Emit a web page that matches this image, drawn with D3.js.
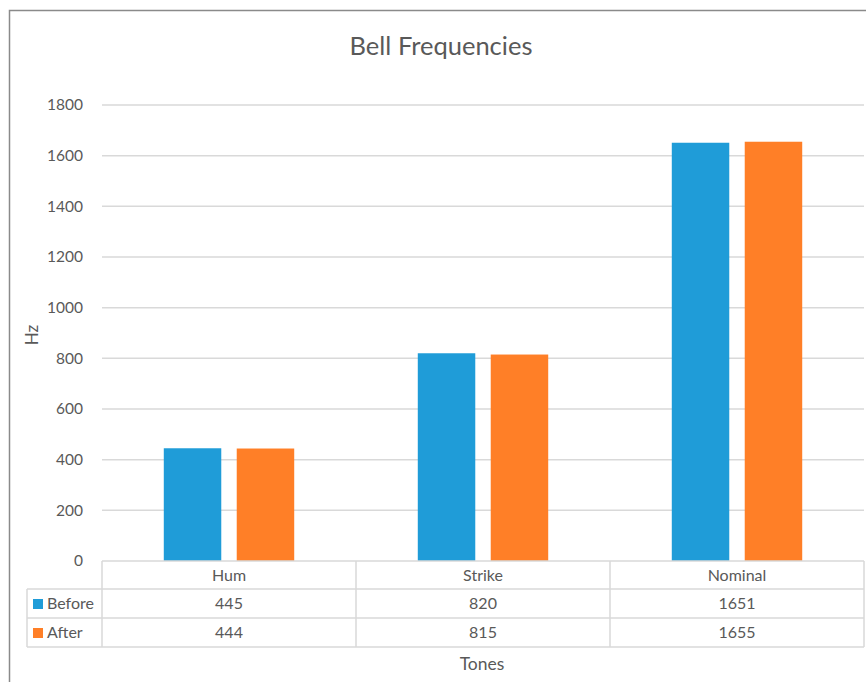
<!DOCTYPE html>
<html>
<head>
<meta charset="utf-8">
<script src="https://cdn.jsdelivr.net/npm/d3@7"></script>
<style>
html,body{margin:0;padding:0;background:#fff;}
svg{display:block;}
text{font-family:Lato,"Open Sans",sans-serif;fill:#595959;}
</style>
</head>
<body>
<svg id="chart" width="866" height="682"></svg>
<script>
const categories = ["Hum", "Strike", "Nominal"];
const seriesNames = ["Before", "After"];
const beforeValues = [445, 820, 1651];
const afterValues = [444, 815, 1655];
const yTicks = [0, 200, 400, 600, 800, 1000, 1200, 1400, 1600, 1800];
const colors = ["#1f9cd8", "#ff7f27"];
const seriesValues = [beforeValues, afterValues];

(function () {
const svg = d3.select("#chart");
const pLeft = 102, pRight = 864, pTop = 105, pBottom = 561;
const rowH = [28, 29, 29];
const legendLeft = 27;
const fs = 16;

svg.append("rect").attr("x", 0).attr("y", 0).attr("width", 866).attr("height", 682).attr("fill", "#fff");
// outer border
svg.append("rect").attr("x", 9.5).attr("y", 10.5).attr("width", 900).attr("height", 700)
  .attr("fill", "none").attr("stroke", "#8a8a8a").attr("stroke-width", 1.5);

const x = d3.scaleBand().domain(categories).range([pLeft, pRight]).paddingInner(0).paddingOuter(0);
const xs = d3.scaleBand().domain(seriesNames).range([0, x.bandwidth()]).paddingInner(0.212).paddingOuter(0.847);
const y = d3.scaleLinear().domain([0, 1800]).range([pBottom, pTop]);

// gridlines
svg.append("g").selectAll("line").data(yTicks.filter(d => d > 0)).join("line")
  .attr("x1", pLeft).attr("x2", pRight)
  .attr("y1", d => y(d)).attr("y2", d => y(d))
  .attr("stroke", "#d9d9d9").attr("stroke-width", 1.5);

// y axis tick labels
const yAxis = d3.axisLeft(y).tickValues(yTicks).tickFormat(d3.format("d")).tickSize(0).tickPadding(0);
const ya = svg.append("g").attr("transform", "translate(83,0)").call(yAxis);
ya.select(".domain").remove();
ya.selectAll("text").attr("font-size", 15.5).attr("fill", "#595959").attr("font-family", "Lato,'Open Sans',sans-serif");

// bars
seriesNames.forEach((s, si) => {
  svg.append("g").selectAll("rect").data(categories).join("rect")
    .attr("x", c => x(c) + xs(s))
    .attr("width", xs.bandwidth())
    .attr("y", (c, i) => y(seriesValues[si][i]))
    .attr("height", (c, i) => y(0) - y(seriesValues[si][i]))
    .attr("fill", colors[si]);
});

// data table
const tbl = svg.append("g");
const lc = "#d9d9d9", lw = 1.5;
const r0 = pBottom, r1 = r0 + rowH[0], r2 = r1 + rowH[1], r3 = r2 + rowH[2];
tbl.append("line").attr("x1", pLeft).attr("x2", pRight).attr("y1", r0).attr("y2", r0).attr("stroke", lc).attr("stroke-width", lw);
[r1, r2, r3].forEach(r => tbl.append("line").attr("x1", legendLeft).attr("x2", pRight).attr("y1", r).attr("y2", r).attr("stroke", lc).attr("stroke-width", lw));
tbl.append("line").attr("x1", legendLeft).attr("x2", legendLeft).attr("y1", r1).attr("y2", r3).attr("stroke", lc).attr("stroke-width", lw);
[pLeft, ...categories.map(c => x(c) + x.bandwidth())].forEach(xx =>
  tbl.append("line").attr("x1", xx).attr("x2", xx).attr("y1", r0).attr("y2", r3).attr("stroke", lc).attr("stroke-width", lw));

tbl.selectAll("text.cat").data(categories).join("text").attr("class", "cat")
  .attr("x", c => x(c) + x.bandwidth() / 2).attr("y", (r0 + r1) / 2 + 5.5)
  .attr("text-anchor", "middle").attr("font-size", fs).text(c => c);

const rowsY = [(r1 + r2) / 2, (r2 + r3) / 2];
seriesNames.forEach((s, si) => {
  tbl.append("rect").attr("x", 33).attr("y", rowsY[si] - 4.5).attr("width", 10).attr("height", 10).attr("fill", colors[si]);
  tbl.append("text").attr("x", 47).attr("y", rowsY[si] + 5.5).attr("font-size", fs).text(s);
  tbl.selectAll("text.v" + si).data(categories).join("text").attr("class", "v" + si)
    .attr("x", c => x(c) + x.bandwidth() / 2).attr("y", rowsY[si] + 5.5)
    .attr("text-anchor", "middle").attr("font-size", fs)
    .text((c, i) => seriesValues[si][i]);
});

// titles
svg.append("text").attr("x", 441).attr("y", 55).attr("text-anchor", "middle").attr("font-size", 25.5).text("Bell Frequencies");
svg.append("text").attr("x", 482).attr("y", 670).attr("text-anchor", "middle").attr("font-size", 17.5).text("Tones");
svg.append("text").attr("transform", "translate(38,335) rotate(-90)").attr("text-anchor", "middle").attr("font-size", 17).text("Hz");
})();
</script>
</body>
</html>
